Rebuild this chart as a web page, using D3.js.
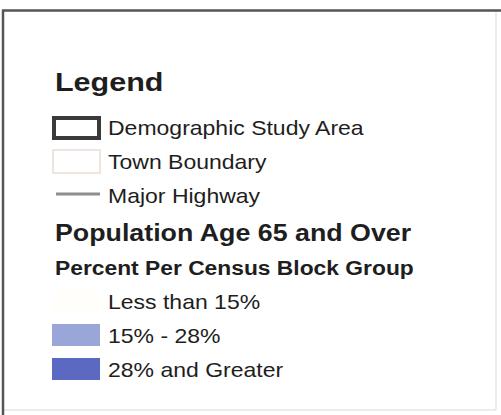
<!DOCTYPE html>
<html><head><meta charset="utf-8">
<script src="https://cdn.jsdelivr.net/npm/d3@7"></script>
<style>html,body{margin:0;padding:0;background:#fff;}svg{display:block;}</style>
</head><body>
<script>
// Legend data
const legendTitle = "Legend";
const symbolLabels = ["Demographic Study Area", "Town Boundary", "Major Highway"];
const symbolTypes = ["studyArea", "town", "highway"];
const sectionTitle = "Population Age 65 and Over";
const sectionSubtitle = "Percent Per Census Block Group";
const classLabels = ["Less than 15%", "15% - 28%", "28% and Greater"];
const classColors = ["#fffefa", "#9ba6d8", "#5b69c2"];

const W = 501, H = 415;
const svg = d3.select("body").append("svg").attr("width", W).attr("height", H);

// frame
svg.append("rect").attr("x",0).attr("y",0).attr("width",W).attr("height",H).attr("fill","#fff");
svg.append("line").attr("x1",496).attr("x2",496).attr("y1",11).attr("y2",410).attr("stroke","#e6e6e6").attr("stroke-width",1.5);
svg.append("line").attr("x1",3).attr("x2",496).attr("y1",410).attr("y2",410).attr("stroke","#e6e6e6").attr("stroke-width",1.5);
svg.append("line").attr("x1",2).attr("x2",W).attr("y1",10.5).attr("y2",10.5).attr("stroke","#555").attr("stroke-width",2.5);
svg.append("line").attr("x1",3).attr("x2",3).attr("y1",10).attr("y2",H).attr("stroke","#555").attr("stroke-width",2.5);

function txt(x, y, s, size, weight, sx) {
  return svg.append("text")
    .attr("transform", `translate(${x},${y}) scale(${sx},1)`)
    .attr("font-family", "Liberation Sans, Arial, sans-serif")
    .attr("font-size", size).attr("font-weight", weight)
    .attr("fill", "#1e1e1e").text(s);
}

txt(55, 91, legendTitle, 25, "bold", 1.22);

const yRow = d3.scaleBand().domain(symbolLabels).range([115, 217]).paddingInner(0);
symbolLabels.forEach((lab, i) => {
  const y0 = yRow(lab), bh = yRow.bandwidth();
  const t = symbolTypes[i];
  if (t === "studyArea") {
    svg.append("rect").attr("x",54).attr("y",y0+3).attr("width",45).attr("height",bh-14)
      .attr("fill","#fff").attr("stroke","#3a3a3a").attr("stroke-width",4);
  } else if (t === "town") {
    svg.append("rect").attr("x",53).attr("y",y0+1).attr("width",47).attr("height",bh-11)
      .attr("fill","#fff").attr("stroke","#ecdcd6").attr("stroke-width",1.5);
  } else {
    svg.append("line").attr("x1",56).attr("x2",100).attr("y1",y0+bh/2-6).attr("y2",y0+bh/2-6)
      .attr("stroke","#8e8e8e").attr("stroke-width",3);
  }
  txt(108, y0 + bh/2 + 3, lab, 20, "normal", 1.15);
});

txt(55, 241, sectionTitle, 23.5, "bold", 1.14);
txt(55, 275, sectionSubtitle, 19.5, "bold", 1.17);

const yCls = d3.scaleBand().domain(classLabels).range([289, 391]);
classLabels.forEach((lab, i) => {
  const y0 = yCls(lab), bh = yCls.bandwidth();
  svg.append("rect").attr("x",52).attr("y",y0+1).attr("width",48).attr("height",bh-12)
    .attr("fill", classColors[i]);
  txt(108, y0 + bh/2 + 3, lab, 20, "normal", 1.15);
});
</script>
</body></html>
